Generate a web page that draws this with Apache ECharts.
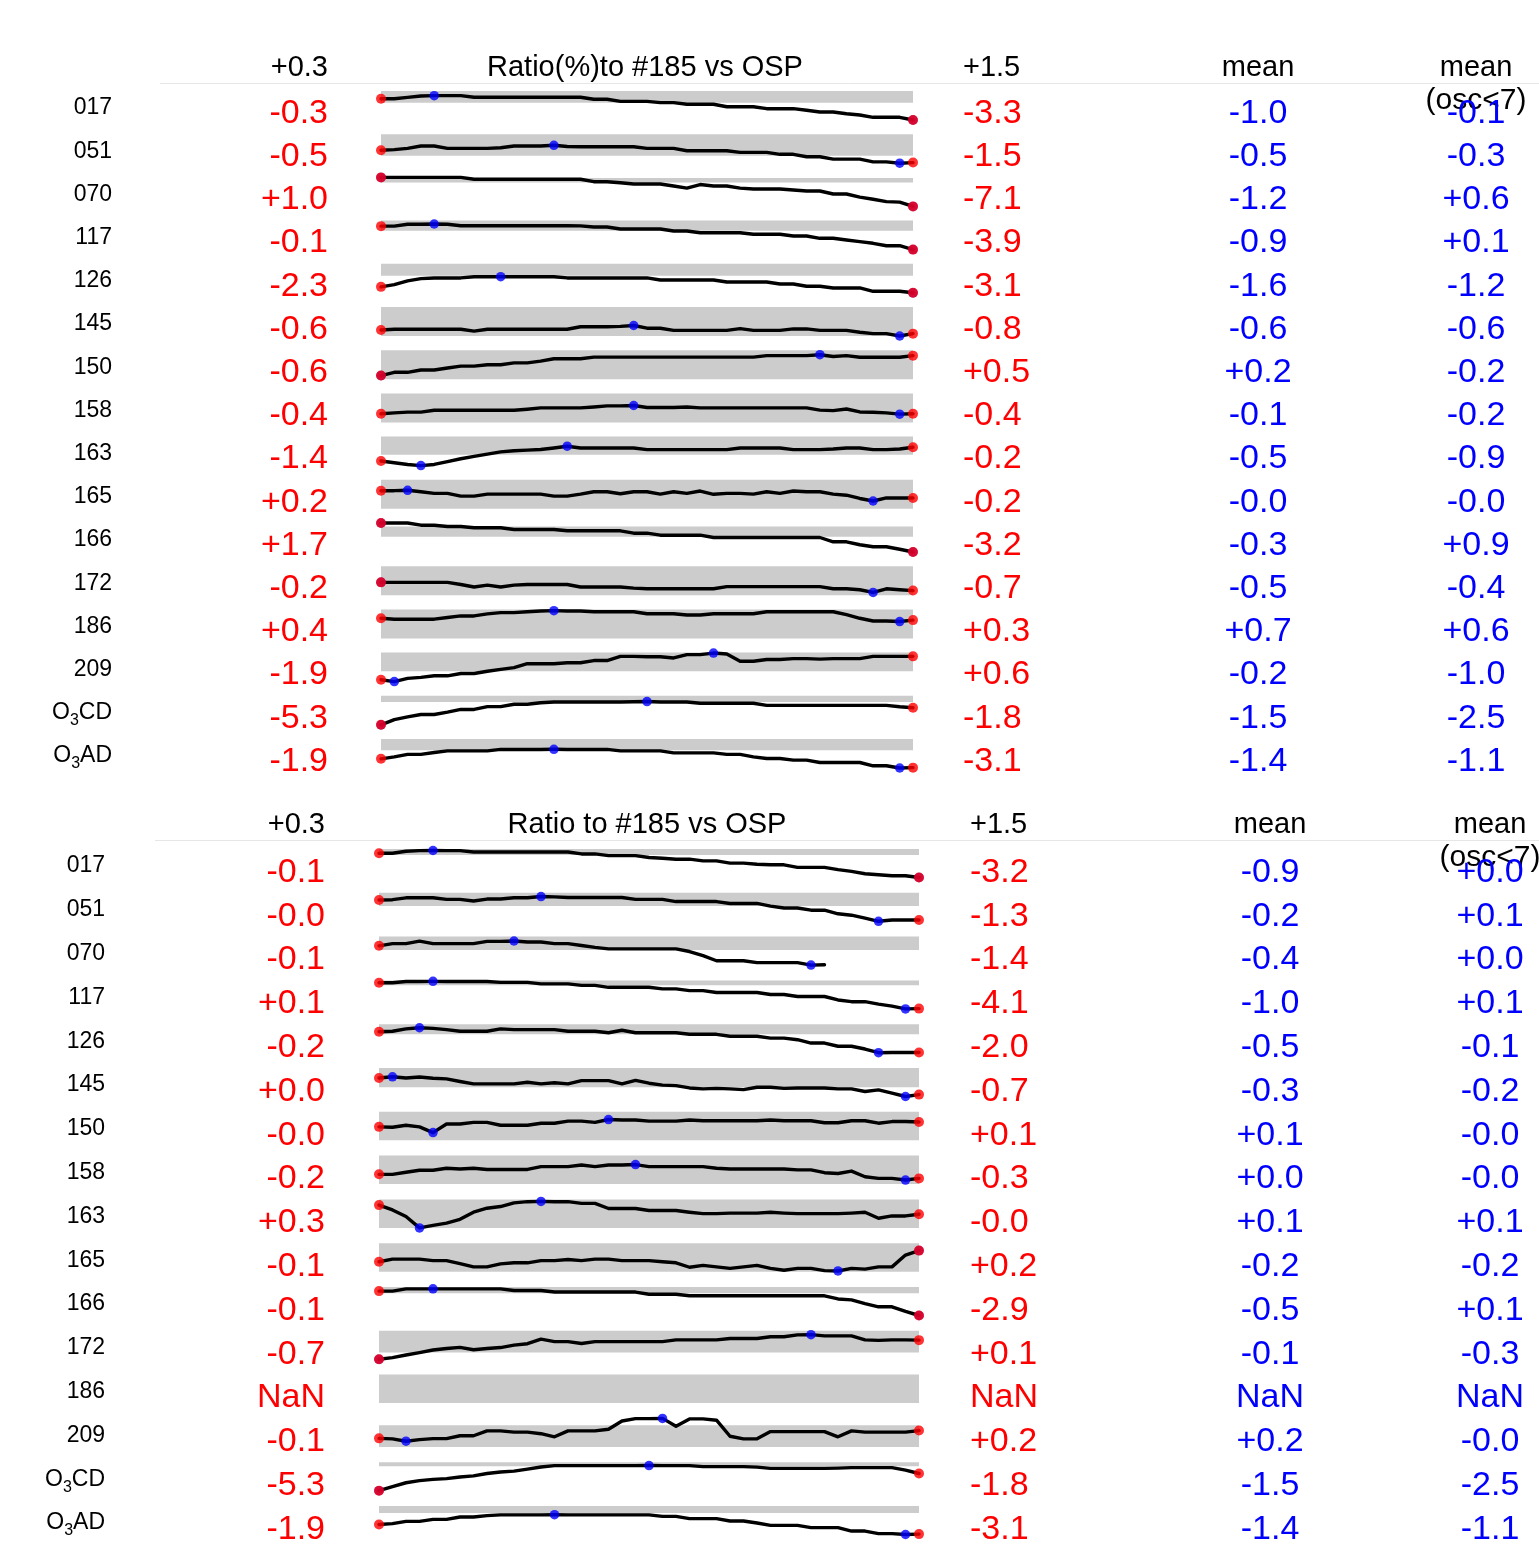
<!DOCTYPE html>
<html>
<head>
<meta charset="utf-8">
<script src="https://cdn.jsdelivr.net/npm/echarts/dist/echarts.min.js"></script>
<style>
  html, body { margin: 0; padding: 0; background: #ffffff; }
  #chart { width: 1539px; height: 1546px; }
</style>
</head>
<body>
<div id="chart"></div>
<script>
// ---- row names (shared by both panels) ----
const rowNames = ['017', '051', '070', '117', '126', '145', '150', '158', '163', '165', '166', '172', '186', '209', 'O3CD', 'O3AD'];

// ---- panel 1: Ratio(%) to #185 vs OSP ----
const pctTitle = 'Ratio(%)to #185 vs OSP';
const pctHeadStart = '+0.3';
const pctHeadEnd = '+1.5';
const pctSeries = [
  [-0.3,-0.3,-0.1,0.1,0.14,0.14,0.14,-0.09,-0.09,-0.09,-0.09,-0.09,-0.09,-0.09,-0.09,-0.09,-0.37,-0.37,-0.66,-0.66,-0.66,-0.85,-0.85,-1.08,-1.08,-1.08,-1.42,-1.42,-1.42,-1.7,-1.7,-1.7,-1.93,-2.17,-2.17,-2.41,-2.6,-2.92,-2.92,-2.92,-3.3],
  [-0.5,-0.45,-0.35,-0.16,-0.16,-0.35,-0.35,-0.35,-0.35,-0.3,-0.16,-0.16,-0.16,-0.1,-0.2,-0.22,-0.22,-0.22,-0.22,-0.22,-0.35,-0.35,-0.35,-0.54,-0.54,-0.54,-0.54,-0.67,-0.67,-0.67,-0.83,-0.83,-1.03,-1.03,-1.22,-1.22,-1.22,-1.44,-1.44,-1.55,-1.5],
  [1.0,1.0,1.0,1.0,1.0,1.0,1.0,0.47,0.47,0.47,0.47,0.47,0.47,0.47,0.47,0.47,-0.2,-0.2,-0.5,-0.84,-0.84,-0.84,-1.4,-2.0,-1.0,-1.4,-1.4,-2.0,-2.24,-2.24,-2.24,-2.5,-2.8,-2.8,-3.64,-3.64,-4.5,-5.1,-5.78,-5.9,-7.1],
  [-0.1,-0.1,0.2,0.2,0.25,0.2,-0.03,-0.03,-0.03,-0.03,-0.03,-0.03,-0.03,-0.03,-0.03,-0.05,-0.24,-0.24,-0.56,-0.56,-0.56,-0.56,-0.88,-0.88,-1.16,-1.16,-1.16,-1.16,-1.42,-1.42,-1.42,-1.7,-1.7,-2.07,-2.07,-2.34,-2.6,-2.88,-3.27,-3.27,-3.9],
  [-2.3,-2.0,-1.5,-1.2,-1.1,-1.1,-1.1,-0.95,-0.95,-0.93,-0.95,-0.95,-0.95,-0.95,-1.1,-1.1,-1.1,-1.1,-1.1,-1.1,-1.1,-1.38,-1.38,-1.38,-1.38,-1.38,-1.65,-1.65,-1.65,-1.65,-1.92,-1.92,-2.22,-2.22,-2.45,-2.45,-2.45,-2.9,-2.9,-2.9,-3.1],
  [-0.6,-0.56,-0.56,-0.56,-0.56,-0.56,-0.56,-0.66,-0.56,-0.56,-0.56,-0.56,-0.56,-0.56,-0.56,-0.42,-0.42,-0.42,-0.4,-0.35,-0.5,-0.5,-0.62,-0.62,-0.62,-0.62,-0.62,-0.52,-0.62,-0.62,-0.62,-0.54,-0.54,-0.62,-0.62,-0.62,-0.72,-0.8,-0.8,-0.93,-0.8],
  [-0.6,-0.42,-0.42,-0.29,-0.29,-0.18,-0.08,-0.08,0.0,0.0,0.1,0.1,0.2,0.33,0.33,0.33,0.42,0.42,0.42,0.42,0.42,0.42,0.42,0.42,0.42,0.42,0.42,0.42,0.42,0.5,0.5,0.5,0.5,0.55,0.45,0.5,0.41,0.41,0.41,0.41,0.5],
  [-0.4,-0.35,-0.31,-0.31,-0.21,-0.21,-0.21,-0.21,-0.21,-0.21,-0.21,-0.15,-0.08,-0.08,-0.08,-0.08,-0.03,0.03,0.03,0.05,-0.06,-0.06,-0.06,-0.03,-0.08,-0.08,-0.08,-0.08,-0.08,-0.08,-0.08,-0.08,-0.08,-0.2,-0.23,-0.14,-0.3,-0.32,-0.35,-0.42,-0.4],
  [-1.4,-1.55,-1.7,-1.8,-1.7,-1.45,-1.2,-1.0,-0.8,-0.6,-0.5,-0.45,-0.4,-0.26,-0.11,-0.26,-0.26,-0.26,-0.26,-0.26,-0.41,-0.41,-0.41,-0.41,-0.41,-0.41,-0.41,-0.26,-0.26,-0.26,-0.26,-0.41,-0.41,-0.41,-0.35,-0.26,-0.26,-0.41,-0.41,-0.35,-0.2],
  [0.2,0.2,0.22,0.14,0.05,0.05,-0.1,-0.1,0.01,0.01,0.01,0.01,0.01,-0.1,-0.1,0.01,0.14,0.14,0.03,0.14,0.14,0.01,0.14,0.05,0.18,0.0,0.05,0.05,0.01,0.14,0.05,0.18,0.14,0.14,0.01,-0.05,-0.23,-0.37,-0.2,-0.2,-0.2],
  [1.7,1.7,1.7,1.33,1.33,1.11,1.11,0.89,0.89,0.89,0.6,0.6,0.6,0.6,0.38,0.38,0.38,0.38,0.38,-0.02,-0.02,-0.36,-0.36,-0.36,-0.36,-0.75,-0.75,-0.75,-0.75,-0.75,-0.75,-0.75,-0.75,-0.75,-1.48,-1.48,-1.98,-2.32,-2.32,-2.73,-3.2],
  [-0.2,-0.2,-0.2,-0.2,-0.2,-0.2,-0.33,-0.48,-0.37,-0.48,-0.37,-0.33,-0.33,-0.33,-0.33,-0.48,-0.48,-0.48,-0.48,-0.55,-0.59,-0.59,-0.59,-0.59,-0.59,-0.59,-0.46,-0.46,-0.46,-0.46,-0.46,-0.46,-0.46,-0.46,-0.59,-0.59,-0.65,-0.81,-0.59,-0.65,-0.7],
  [0.4,0.35,0.35,0.35,0.35,0.44,0.53,0.53,0.64,0.71,0.71,0.76,0.8,0.82,0.8,0.8,0.76,0.76,0.76,0.76,0.65,0.65,0.65,0.58,0.58,0.65,0.65,0.65,0.65,0.76,0.76,0.76,0.76,0.76,0.76,0.6,0.4,0.25,0.25,0.22,0.3],
  [-1.9,-2.1,-1.75,-1.65,-1.48,-1.48,-1.23,-1.23,-0.99,-0.79,-0.61,-0.19,-0.19,-0.19,-0.09,-0.09,0.15,0.15,0.6,0.6,0.55,0.55,0.43,0.78,0.78,0.95,0.85,0.08,0.08,0.26,0.26,0.36,0.36,0.3,0.36,0.36,0.36,0.6,0.6,0.6,0.6],
  [-5.3,-4.25,-3.69,-3.2,-3.2,-2.72,-2.16,-2.16,-1.59,-1.59,-1.1,-1.1,-0.8,-0.63,-0.63,-0.63,-0.63,-0.63,-0.63,-0.6,-0.54,-0.63,-0.63,-0.63,-0.9,-0.9,-0.9,-0.9,-0.9,-1.32,-1.32,-1.32,-1.32,-1.32,-1.32,-1.32,-1.32,-1.32,-1.32,-1.6,-1.8],
  [-1.9,-1.63,-1.3,-1.3,-1.04,-0.82,-0.82,-0.82,-0.82,-0.62,-0.62,-0.62,-0.62,-0.6,-0.62,-0.62,-0.62,-0.62,-0.82,-0.82,-0.82,-0.82,-1.09,-1.09,-1.09,-1.09,-1.3,-1.3,-1.63,-1.85,-1.85,-2.08,-2.08,-2.4,-2.4,-2.4,-2.4,-2.85,-2.85,-3.15,-3.1]
];
const pctBandLow  = [-0.85, -0.95, -0.45, -0.84, -0.8, -0.93, -0.8, -0.87, -0.85, -0.8, -0.63, -0.98, -0.71, -1.0, -0.63, -0.72];
const pctBandHigh = [0.8, 0.8, 0.8, 0.8, 0.8, 0.67, 0.8, 0.71, 0.73, 0.8, 1.1, 0.78, 0.89, 1.0, 0.63, 0.8];
const pctMean    = ['-1.0', '-0.5', '-1.2', '-0.9', '-1.6', '-0.6', '+0.2', '-0.1', '-0.5', '-0.0', '-0.3', '-0.5', '+0.7', '-0.2', '-1.5', '-1.4'];
const pctMeanOsc = ['-0.1', '-0.3', '+0.6', '+0.1', '-1.2', '-0.6', '-0.2', '-0.2', '-0.9', '-0.0', '+0.9', '-0.4', '+0.6', '-1.0', '-2.5', '-1.1'];

// ---- panel 2: Ratio to #185 vs OSP ----
const ratioTitle = 'Ratio to #185 vs OSP';
const ratioHeadStart = '+0.3';
const ratioHeadEnd = '+1.5';
const ratioSeries = [
  [-0.1,-0.1,0.15,0.23,0.25,0.23,0.23,0.06,0.06,0.06,0.06,0.06,0.06,0.06,0.06,-0.19,-0.19,-0.4,-0.4,-0.4,-0.65,-0.75,-0.86,-0.86,-1.08,-1.08,-1.37,-1.37,-1.5,-1.58,-1.58,-1.91,-1.91,-1.91,-2.2,-2.42,-2.72,-2.85,-2.97,-2.97,-3.2],
  [-0.02,0.0,0.12,0.12,0.12,0.02,0.02,-0.08,0.04,0.04,0.12,0.12,0.2,0.18,0.14,0.14,0.14,0.14,0.14,0.02,0.02,0.02,-0.12,-0.12,-0.12,-0.12,-0.24,-0.24,-0.24,-0.41,-0.53,-0.53,-0.67,-0.67,-0.9,-0.99,-1.18,-1.38,-1.3,-1.3,-1.3],
  [-0.1,0.05,0.05,0.22,0.05,0.05,0.05,0.05,0.2,0.2,0.23,0.16,0.16,0.05,0.05,-0.08,-0.21,-0.31,-0.31,-0.31,-0.31,-0.31,-0.31,-0.49,-0.77,-1.12,-1.12,-1.12,-1.25,-1.25,-1.25,-1.25,-1.42,-1.4,null,null,null,null,null,null,null],
  [0.1,0.1,0.3,0.3,0.32,0.3,0.3,0.3,0.3,0.15,0.15,0.15,-0.1,-0.1,-0.1,-0.33,-0.33,-0.65,-0.65,-0.65,-0.65,-0.9,-0.9,-1.18,-1.18,-1.5,-1.5,-1.5,-1.5,-1.82,-1.82,-2.14,-2.14,-2.14,-2.7,-2.98,-2.98,-3.37,-3.7,-4.15,-4.1],
  [-0.2,-0.15,0.05,0.15,0.1,-0.01,-0.15,-0.15,-0.15,0.05,-0.01,-0.01,-0.01,-0.01,-0.15,-0.15,-0.15,-0.28,-0.07,-0.28,-0.28,-0.28,-0.28,-0.42,-0.42,-0.42,-0.59,-0.59,-0.59,-0.75,-0.75,-0.89,-1.18,-1.18,-1.46,-1.46,-1.7,-2.02,-2.0,-2.0,-2.0],
  [0.0,0.05,0.0,0.04,-0.01,-0.04,-0.15,-0.25,-0.25,-0.25,-0.25,-0.18,-0.25,-0.2,-0.25,-0.11,-0.11,-0.11,-0.25,-0.1,-0.22,-0.3,-0.32,-0.42,-0.46,-0.44,-0.46,-0.49,-0.39,-0.39,-0.44,-0.42,-0.42,-0.42,-0.46,-0.46,-0.57,-0.5,-0.64,-0.78,-0.7],
  [-0.02,-0.03,0.02,-0.02,-0.16,0.05,0.05,0.09,0.09,0.02,0.02,0.02,0.07,0.07,0.12,0.12,0.09,0.16,0.15,0.15,0.12,0.12,0.12,0.15,0.13,0.13,0.13,0.13,0.13,0.15,0.13,0.13,0.13,0.08,0.08,0.13,0.13,0.07,0.11,0.11,0.1],
  [-0.2,-0.2,-0.15,-0.1,-0.1,-0.05,-0.07,-0.05,-0.08,-0.08,-0.08,-0.08,-0.01,-0.01,-0.01,0.03,-0.01,0.03,0.03,0.04,-0.01,-0.01,-0.01,-0.01,-0.01,-0.05,-0.07,-0.07,-0.07,-0.07,-0.07,-0.09,-0.09,-0.16,-0.18,-0.12,-0.26,-0.3,-0.3,-0.34,-0.3],
  [0.3,0.13,-0.1,-0.5,-0.41,-0.33,-0.2,0.05,0.19,0.25,0.38,0.42,0.43,0.42,0.42,0.36,0.36,0.18,0.18,0.18,0.11,0.11,0.11,0.05,0.0,0.0,0.02,0.02,0.02,0.05,0.02,0.0,0.0,0.0,0.0,0.02,0.05,-0.16,-0.08,-0.08,-0.02],
  [-0.1,-0.03,-0.03,-0.03,-0.07,-0.07,-0.15,-0.24,-0.24,-0.16,-0.13,-0.13,-0.07,-0.07,-0.04,-0.07,-0.03,-0.03,-0.07,-0.07,-0.07,-0.1,-0.13,-0.25,-0.2,-0.24,-0.28,-0.24,-0.2,-0.28,-0.33,-0.28,-0.28,-0.34,-0.35,-0.28,-0.3,-0.24,-0.24,0.08,0.2],
  [-0.1,-0.1,0.15,0.15,0.16,0.15,0.15,0.15,0.15,0.15,-0.03,-0.03,-0.03,-0.21,-0.21,-0.21,-0.21,-0.21,-0.21,-0.21,-0.46,-0.46,-0.46,-0.64,-0.64,-0.64,-0.64,-0.64,-0.64,-0.64,-0.64,-0.64,-0.64,-0.64,-1.0,-1.11,-1.54,-1.9,-1.9,-2.43,-2.9],
  [-0.7,-0.63,-0.52,-0.42,-0.31,-0.25,-0.2,-0.3,-0.25,-0.21,-0.11,-0.05,0.14,0.04,0.04,-0.04,0.04,0.04,0.04,0.04,0.04,0.04,0.11,0.11,0.11,0.11,0.17,0.17,0.17,0.24,0.24,0.32,0.33,0.28,0.28,0.28,0.11,0.09,0.11,0.11,0.1],
  [],
  [-0.1,-0.12,-0.21,-0.15,-0.11,-0.11,0.0,0.0,0.19,0.19,0.14,0.14,0.08,-0.04,0.19,0.19,0.19,0.25,0.57,0.66,0.66,0.67,0.37,0.65,0.65,0.6,-0.02,-0.12,-0.12,0.16,0.16,0.16,0.16,0.16,-0.04,0.19,0.14,0.14,0.14,0.14,0.2],
  [-5.3,-4.45,-3.68,-3.26,-3.0,-2.84,-2.5,-2.28,-1.8,-1.5,-1.32,-0.9,-0.48,-0.2,-0.2,-0.2,-0.2,-0.2,-0.2,-0.2,-0.18,-0.2,-0.2,-0.2,-0.4,-0.4,-0.4,-0.4,-0.5,-0.76,-0.76,-0.76,-0.76,-0.76,-0.7,-0.61,-0.61,-0.61,-0.61,-1.1,-1.8],
  [-1.9,-1.8,-1.51,-1.51,-1.26,-1.26,-0.97,-0.97,-0.8,-0.7,-0.7,-0.7,-0.7,-0.68,-0.7,-0.7,-0.7,-0.7,-0.7,-0.7,-0.7,-0.89,-0.89,-1.17,-1.17,-1.17,-1.47,-1.47,-1.72,-2.01,-2.01,-2.01,-2.29,-2.29,-2.29,-2.72,-2.72,-3.04,-3.04,-3.15,-3.1]
];
const ratioBandLow  = [-0.32, -0.41, -0.38, -0.33, -0.42, -0.39, -0.35, -0.44, -0.5, -0.37, -0.35, -0.42, -0.3, -0.43, -0.3, -0.48];
const ratioBandHigh = [0.44, 0.44, 0.53, 0.47, 0.46, 0.42, 0.35, 0.26, 0.5, 0.4, 0.37, 0.49, 0.4, 0.41, 0.5, 0.4];
const ratioMean    = ['-0.9', '-0.2', '-0.4', '-1.0', '-0.5', '-0.3', '+0.1', '+0.0', '+0.1', '-0.2', '-0.5', '-0.1', 'NaN', '+0.2', '-1.5', '-1.4'];
const ratioMeanOsc = ['+0.0', '+0.1', '+0.0', '+0.1', '-0.1', '-0.2', '-0.0', '-0.0', '+0.1', '-0.2', '+0.1', '-0.3', 'NaN', '-0.0', '-2.5', '-1.1'];

// ---- drawing ----
const FONT = '"Liberation Sans", Arial, Helvetica, sans-serif';
const N = 41;                      // samples per sparkline
const RED = '#ff0000', BLUE = '#0000ff', BAND = '#cccccc';

const panels = [
  { series: pctSeries, bandLow: pctBandLow, bandHigh: pctBandHigh, mean: pctMean, meanOsc: pctMeanOsc,
    title: pctTitle, headStart: pctHeadStart, headEnd: pctHeadEnd,
    box: { top: 91, pitch: 43.2, height: 29, left: 381, width: 532 },
    text: { labelX: 112, labelY: 108, valueY: 113.5, startX: 328, endX: 963, meanX: 1258, oscX: 1476,
            headY: 68, titleX: 645, oscY: 101, ruleY: 83.5, ruleX: 160 } },
  { series: ratioSeries, bandLow: ratioBandLow, bandHigh: ratioBandHigh, mean: ratioMean, meanOsc: ratioMeanOsc,
    title: ratioTitle, headStart: ratioHeadStart, headEnd: ratioHeadEnd,
    box: { top: 849, pitch: 43.8, height: 28.5, left: 379, width: 540 },
    text: { labelX: 105, labelY: 866, valueY: 872.5, startX: 325, endX: 970, meanX: 1270, oscX: 1490,
            headY: 825, titleX: 647, oscY: 858, ruleY: 840.5, ruleX: 155 } }
];

function fmt(v) {
  return (v < 0 ? '' : '+') + v.toFixed(1);
}

function textEl(x, y, text, size, color, align) {
  return {
    type: 'text', x: x, y: y, silent: true,
    style: { text: text, fontSize: size, fontFamily: FONT, fill: color,
             textAlign: align, textVerticalAlign: 'middle' }
  };
}

function rowLabel(name) {
  // chemical names like O3CD get a subscript digit
  const m = /^([A-Z])(\d)(.*)$/.exec(name);
  if (!m) return { text: name };
  return {
    text: '{n|' + m[1] + '}{s|' + m[2] + '}{n|' + m[3] + '}',
    rich: {
      n: { fontSize: 23, fontFamily: FONT, fill: '#000', lineHeight: 32 },
      s: { fontSize: 16, fontFamily: FONT, fill: '#000', lineHeight: 16, verticalAlign: 'bottom' }
    }
  };
}

const option = { animation: false, backgroundColor: '#ffffff', grid: [], xAxis: [], yAxis: [], series: [], graphic: [] };

panels.forEach(p => {
  const B = p.box, T = p.text;

  // header row
  option.graphic.push({ type: 'line', silent: true,
    shape: { x1: T.ruleX, y1: T.ruleY, x2: 1539, y2: T.ruleY },
    style: { stroke: '#e6e6e6', lineWidth: 1 } });
  option.graphic.push(textEl(T.startX, T.headY, p.headStart, 29, '#000', 'right'));
  option.graphic.push(textEl(T.titleX, T.headY, p.title, 29, '#000', 'center'));
  option.graphic.push(textEl(T.endX, T.headY, p.headEnd, 29, '#000', 'left'));
  option.graphic.push(textEl(T.meanX, T.headY, 'mean', 29, '#000', 'center'));
  option.graphic.push(textEl(T.oscX, T.headY, 'mean', 29, '#000', 'center'));
  option.graphic.push(textEl(T.oscX, T.oscY, '(osc<7)', 30, '#000', 'center'));

  p.series.forEach((vals, i) => {
    const g = option.grid.length;
    const idx = [];
    vals.forEach((v, k) => { if (v != null) idx.push(k); });
    const valid = idx.map(k => vals[k]);
    const yMin = Math.min(p.bandLow[i], ...valid);
    const yMax = Math.max(p.bandHigh[i], ...valid);

    option.grid.push({ left: B.left, top: B.top + B.pitch * i, width: B.width, height: B.height });
    option.xAxis.push({ gridIndex: g, type: 'value', min: 0, max: N - 1, show: false });
    option.yAxis.push({ gridIndex: g, type: 'value', min: yMin, max: yMax, show: false });

    // grey reference band
    option.series.push({
      type: 'custom', xAxisIndex: g, yAxisIndex: g, silent: true, z: 1, clip: false,
      data: [[p.bandLow[i], p.bandHigh[i]]],
      encode: { x: [], y: [0, 1] },
      renderItem: (params, api) => {
        const a = api.coord([0, api.value(1)]);
        const b = api.coord([N - 1, api.value(0)]);
        return { type: 'rect', shape: { x: a[0], y: a[1], width: b[0] - a[0], height: b[1] - a[1] },
                 style: { fill: BAND } };
      }
    });

    let startTxt = 'NaN', endTxt = 'NaN';
    if (idx.length) {
      option.series.push({
        type: 'line', xAxisIndex: g, yAxisIndex: g, silent: true, z: 3, clip: false,
        showSymbol: false, connectNulls: false,
        data: vals.map((v, k) => [k, v == null ? '-' : v]),
        lineStyle: { color: '#000000', width: 3.4, join: 'round', cap: 'round' }
      });
      let kMin = idx[0], kMax = idx[0];
      idx.forEach(k => { if (vals[k] < vals[kMin]) kMin = k; if (vals[k] > vals[kMax]) kMax = k; });
      option.series.push({
        type: 'scatter', xAxisIndex: g, yAxisIndex: g, silent: true, z: 4, clip: false,
        symbolSize: 9.5, itemStyle: { color: BLUE },
        data: [[kMin, vals[kMin]], [kMax, vals[kMax]]]
      });
      // first and last samples; a missing final sample gets no dot
      const ends = [0, vals.length - 1].filter(k => vals[k] != null).map(k => [k, vals[k]]);
      option.series.push({
        type: 'scatter', xAxisIndex: g, yAxisIndex: g, silent: true, z: 5, clip: false,
        symbolSize: 10, itemStyle: { color: RED },
        data: ends
      });
      startTxt = fmt(vals[idx[0]]);
      endTxt = fmt(vals[idx[idx.length - 1]]);
    }

    // row texts
    const lab = rowLabel(rowNames[i]);
    const labEl = textEl(T.labelX, T.labelY + B.pitch * i, lab.text, 23, '#000', 'right');
    if (lab.rich) labEl.style.rich = lab.rich;
    option.graphic.push(labEl);
    const vy = T.valueY + B.pitch * i;
    option.graphic.push(textEl(T.startX, vy, startTxt, 34, RED, 'right'));
    option.graphic.push(textEl(T.endX, vy, endTxt, 34, RED, 'left'));
    option.graphic.push(textEl(T.meanX, vy, p.mean[i], 34, BLUE, 'center'));
    option.graphic.push(textEl(T.oscX, vy, p.meanOsc[i], 34, BLUE, 'center'));
  });
});

const chart = echarts.init(document.getElementById('chart'), null, { renderer: 'canvas' });
chart.setOption(option);
</script>
</body>
</html>
